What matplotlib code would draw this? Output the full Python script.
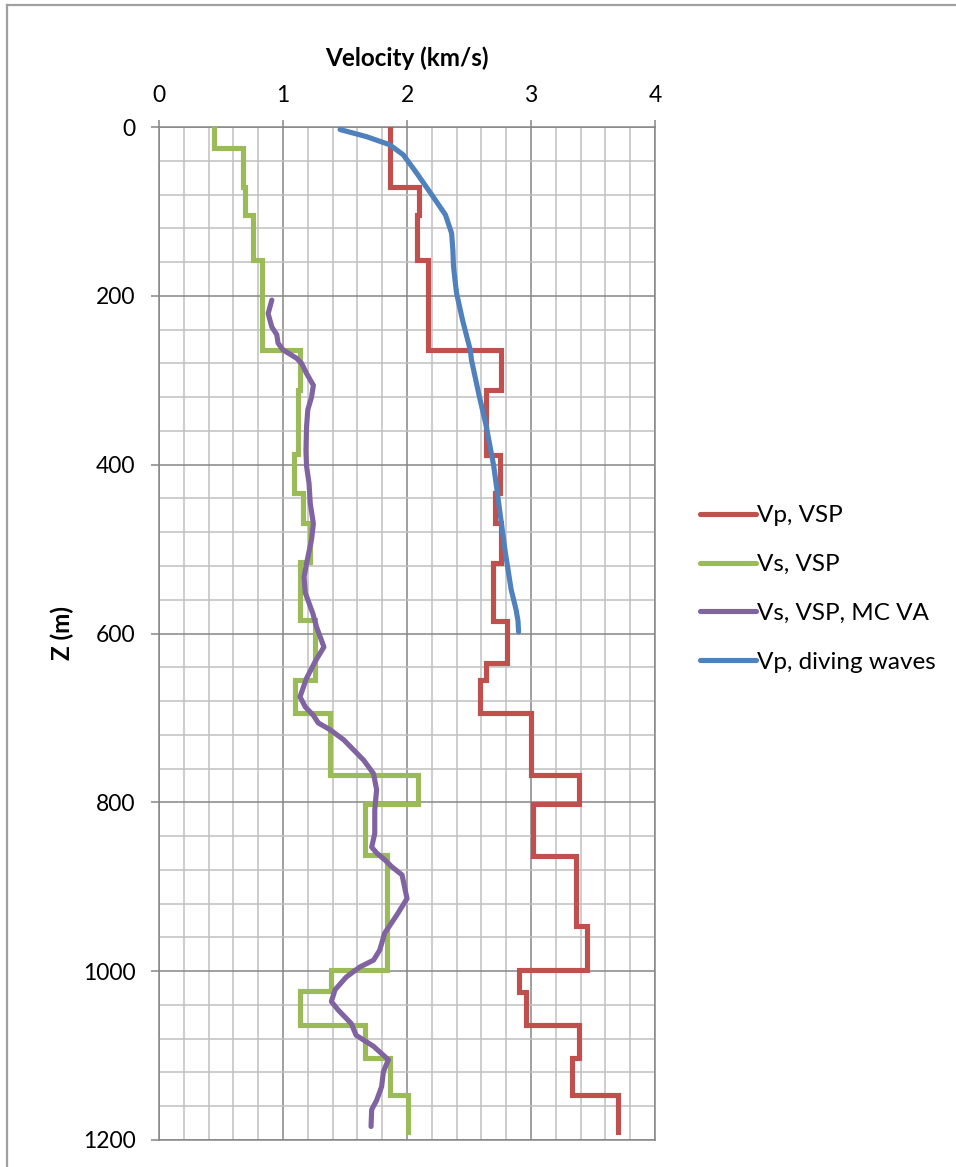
import numpy as np
import matplotlib
matplotlib.use("Agg")
import matplotlib.pyplot as plt
from matplotlib.lines import Line2D
from matplotlib.ticker import MultipleLocator

plt.rcParams['font.family'] = ['Lato', 'DejaVu Sans']

# Layered VSP profiles: layer boundaries (depth, m) and interval velocities (km/s)
vp_vsp_bounds = [0, 71, 104, 157, 264, 311, 388, 433, 469, 516, 585, 635, 655,
                 694, 768, 802, 863, 946, 999, 1025, 1064, 1103, 1147, 1190]
vp_vsp_vel = [1.86, 2.10, 2.08, 2.17, 2.76, 2.64, 2.75, 2.71, 2.76, 2.69, 2.81,
              2.64, 2.59, 3.00, 3.39, 3.02, 3.36, 3.45, 2.90, 2.96, 3.39, 3.33, 3.70]

vs_vsp_bounds = [0, 25, 71, 104, 157, 264, 311, 387, 433, 469, 515, 584, 655,
                 694, 768, 802, 862, 999, 1024, 1064, 1103, 1147, 1190]
vs_vsp_vel = [0.44, 0.675, 0.69, 0.76, 0.83, 1.14, 1.12, 1.09, 1.16, 1.22, 1.14,
              1.26, 1.10, 1.38, 2.09, 1.66, 1.84, 1.39, 1.14, 1.66, 1.86, 2.01]

# Monte Carlo velocity analysis, Vs
vs_mc_depth = [205, 221, 237, 246, 256, 264, 274, 280, 292, 306, 320, 335, 355,
               383, 402, 422, 446, 470, 489, 517, 533, 552, 564, 576, 592, 616,
               633, 653, 675, 687, 697, 706, 714, 726, 738, 750, 766, 785, 809,
               837, 853, 860, 868, 876, 886, 914, 933, 955, 975, 987, 995, 1007,
               1022, 1036, 1046, 1062, 1076, 1089, 1105, 1119, 1137, 1153, 1164,
               1184]
vs_mc_vel = [0.91, 0.88, 0.91, 0.95, 0.96, 1.00, 1.11, 1.15, 1.19, 1.245, 1.23,
             1.20, 1.19, 1.185, 1.19, 1.21, 1.22, 1.245, 1.23, 1.19, 1.17, 1.18,
             1.21, 1.24, 1.27, 1.33, 1.26, 1.19, 1.137, 1.18, 1.245, 1.285, 1.38,
             1.49, 1.57, 1.65, 1.73, 1.755, 1.74, 1.74, 1.715, 1.755, 1.82, 1.875,
             1.96, 2.00, 1.92, 1.82, 1.78, 1.73, 1.62, 1.51, 1.42, 1.39, 1.445,
             1.55, 1.59, 1.73, 1.85, 1.81, 1.795, 1.755, 1.715, 1.71]

# Diving-wave tomography, Vp
vp_dw_depth = [3, 11.5, 21, 33, 55, 82.5, 104, 126, 146, 165, 185, 197, 230, 264,
               276, 317, 355, 402, 446, 501, 548, 572, 585, 598]
vp_dw_vel = [1.46, 1.675, 1.86, 1.97, 2.08, 2.21, 2.31, 2.36, 2.37, 2.375, 2.39,
             2.40, 2.45, 2.51, 2.52, 2.58, 2.64, 2.70, 2.74, 2.79, 2.84, 2.88,
             2.895, 2.90]

x_ticks = [0, 1, 2, 3, 4]
y_ticks = [0, 200, 400, 600, 800, 1000, 1200]

labels = ["Vp, VSP", "Vs, VSP", "Vs, VSP, MC VA", "Vp, diving waves"]
colors = ["#C0504D", "#9BBB59", "#8064A2", "#4F81BD"]


def layered(bounds, vel):
    b = np.asarray(bounds, dtype=float)
    v = np.asarray(vel, dtype=float)
    return np.repeat(v, 2), np.repeat(b, 2)[1:-1]


W, H = 956, 1167
fig = plt.figure(figsize=(W / 100, H / 100), dpi=100)
ax = fig.add_axes([159 / W, 1 - 1140 / H, (655 - 159) / W, (1140 - 127) / H])

lw = 3.7
x, y = layered(vp_vsp_bounds, vp_vsp_vel)
ax.plot(x, y, color=colors[0], lw=lw, label=labels[0], solid_joinstyle='miter', zorder=3)
x, y = layered(vs_vsp_bounds, vs_vsp_vel)
ax.plot(x, y, color=colors[1], lw=lw, label=labels[1], solid_joinstyle='miter', zorder=3)
ax.plot(vs_mc_vel, vs_mc_depth, color=colors[2], lw=lw, label=labels[2],
        solid_capstyle='round', zorder=4)
ax.plot(vp_dw_vel, vp_dw_depth, color=colors[3], lw=lw, label=labels[3],
        solid_capstyle='round', zorder=4)

ax.set_xlim(0, 4)
ax.set_ylim(1200, 0)
ax.xaxis.tick_top()
ax.set_xticks(x_ticks)
ax.set_yticks(y_ticks)
ax.xaxis.set_minor_locator(MultipleLocator(0.2))
ax.yaxis.set_minor_locator(MultipleLocator(40))

major_c = "#868686"
minor_c = "#C0C0C0"
ax.grid(which='minor', color=minor_c, lw=1.1, zorder=0)
ax.grid(which='major', color=major_c, lw=1.1, zorder=1)
ax.set_axisbelow(True)
for s in ax.spines.values():
    s.set_color(major_c)
    s.set_linewidth(1.1)

ax.tick_params(axis='both', which='minor', length=0)
ax.tick_params(axis='y', which='major', direction='out', length=6, width=1.1,
               color=major_c, labelsize=16.5, pad=11)
ax.tick_params(axis='x', which='major', direction='out', length=5, width=1.1,
               color=major_c, labelsize=16.5, pad=10, top=True, bottom=False,
               labeltop=True, labelbottom=False)

fig.text(407 / W, 1 - 58 / H, "Velocity (km/s)", ha='center', va='center',
         fontsize=17.5, fontweight='bold')
fig.text(62 / W, 1 - 633 / H, "Z (m)", ha='center', va='center', rotation=90,
         fontsize=17.5, fontweight='bold')

handles = [Line2D([0], [0], color=c, lw=lw, solid_capstyle='round') for c in colors]
fig.legend(handles, labels, loc='center left', bbox_to_anchor=(700 / W, 1 - 589 / H),
           frameon=False, fontsize=17.5, handlelength=2.3, handletextpad=0.05,
           labelspacing=1.15, borderpad=0, borderaxespad=0)

# chart-area border
border_c = "#A0A0A0"
fig.add_artist(Line2D([7 / W, 7 / W], [0, 1 - 5 / H], transform=fig.transFigure,
                      color=border_c, lw=1.6))
fig.add_artist(Line2D([7 / W, 1], [1 - 5 / H, 1 - 5 / H], transform=fig.transFigure,
                      color=border_c, lw=1.6))

fig.savefig("out.png", dpi=100, facecolor='white')
